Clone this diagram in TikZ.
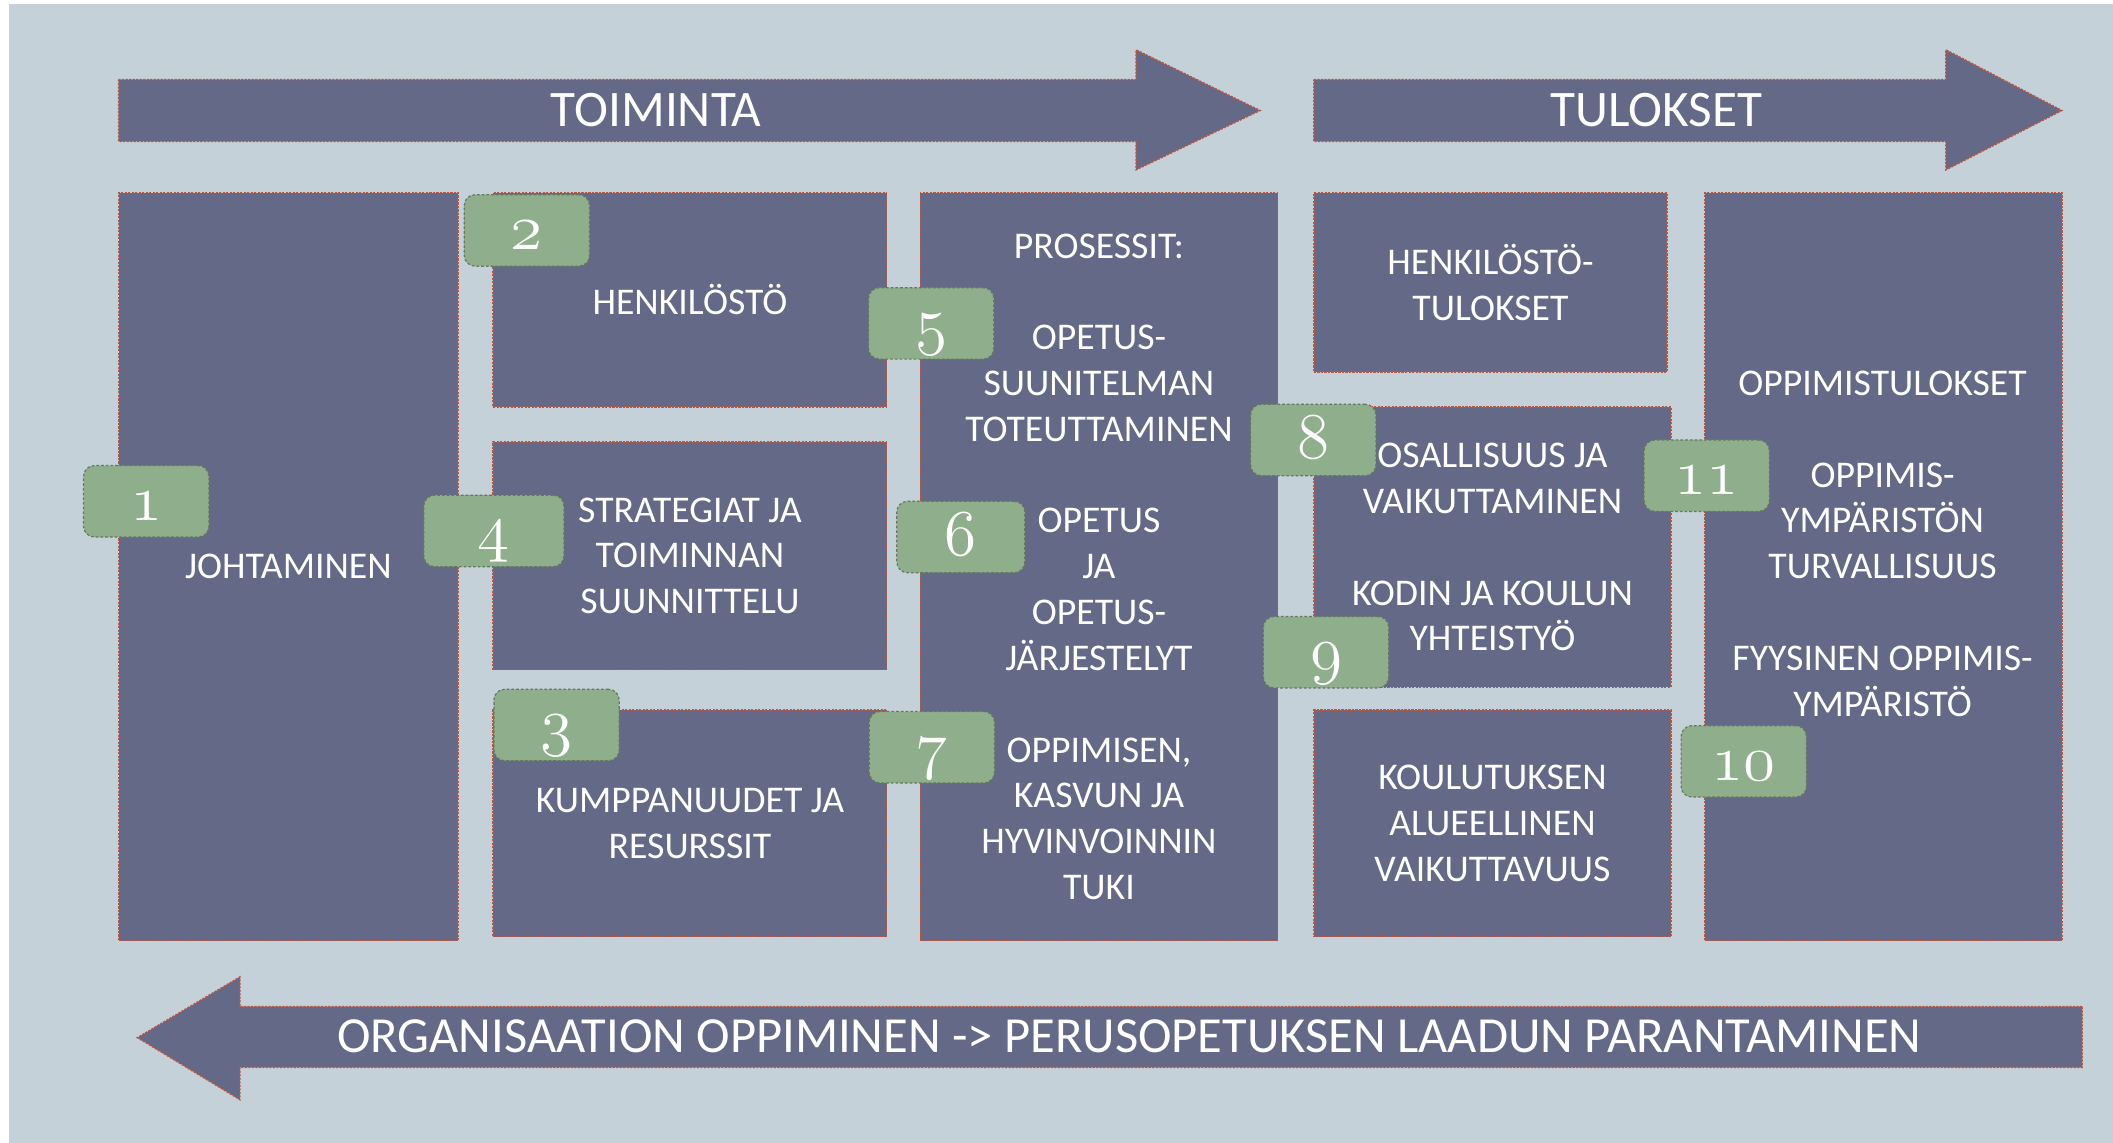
\documentclass[tikz,border=0pt]{standalone}
\usepackage{fontspec}
\setmainfont{Carlito}
\definecolor{bgc}{RGB}{197,209,216}
\definecolor{boxc}{RGB}{99,105,134}
\definecolor{bordc}{RGB}{185,85,65}
\definecolor{badgec}{RGB}{143,174,139}
\definecolor{badgebord}{RGB}{100,120,95}
\newcommand{\bnum}[1]{\scalebox{1.95}{\fontsize{24.88}{25}\usefont{OML}{cmm}{m}{it}#1}}
\newcommand{\boxfnt}{\fontsize{28}{34}\selectfont}
\newcommand{\bigfnt}{\fontsize{38}{40}\selectfont}
\begin{document}
\begin{tikzpicture}[x=1pt,y=-1pt,
  panel/.style={draw=bordc, fill=boxc, line width=1.1pt, dash pattern=on 1.6pt off 1pt, text=white, font=\boxfnt, align=center, inner sep=0pt},
  arrowshape/.style={draw=bordc, fill=boxc, line width=1.1pt, dash pattern=on 1.6pt off 1pt},
  badge/.style={draw=badgebord, fill=badgec, line width=0.9pt, dash pattern=on 2pt off 1.5pt, rounded corners=8pt, minimum width=93pt, minimum height=53pt, inner sep=0pt, text=white, text height=28pt, text depth=0pt},
  lbl/.style={text=white, font=\boxfnt, align=center, inner sep=0pt},
  biglbl/.style={text=white, font=\bigfnt, inner sep=0pt}]
\useasboundingbox (0,0) rectangle (1568,848);
\fill[white] (0,0) rectangle (1568,848);
\fill[bgc] (7,3) rectangle (1568,848);

% arrows
\draw[arrowshape] (88,59) -- (843,59) -- (843,37) -- (935,82) -- (843,126) -- (843,105) -- (88,105) -- cycle;
\node[biglbl] (toiminta) at (487,82) {TOIMINTA};
\draw[arrowshape] (975,59) -- (1444,59) -- (1444,37) -- (1530,82) -- (1444,126) -- (1444,105) -- (975,105) -- cycle;
\node[biglbl] (tulokset) at (1229,82) {TULOKSET};
\draw[arrowshape] (1545,747) -- (178,747) -- (178,725) -- (102,770) -- (178,816) -- (178,792) -- (1545,792) -- cycle;
\node[biglbl, font=\fontsize{37.5}{40}\selectfont] (oppiminen) at (838,769) {ORGANISAATION OPPIMINEN -> PERUSOPETUKSEN LAADUN PARANTAMINEN};

% panels
\node[panel, minimum width=252pt, minimum height=555pt] (johto) at (214,420.5) {JOHTAMINEN};
\node[panel, minimum width=292pt, minimum height=159pt] (henk) at (512,222.5) {HENKILÖSTÖ};
\node[panel, minimum width=292pt, minimum height=169pt] (strat) at (512,412.5) {STRATEGIAT JA\\TOIMINNAN\\SUUNNITTELU};
\node[panel, minimum width=292pt, minimum height=168pt] (kump) at (512,611) {KUMPPANUUDET JA\\RESURSSIT};
\node[panel, minimum width=265pt, minimum height=555pt] (pros) at (815.5,420.5) {PROSESSIT:\\[34pt]OPETUS-\\SUUNITELMAN\\TOTEUTTAMINEN\\[34pt]OPETUS\\JA\\OPETUS-\\JÄRJESTELYT\\[34pt]OPPIMISEN,\\KASVUN JA\\HYVINVOINNIN\\TUKI};
\node[panel, minimum width=262pt, minimum height=133pt] (henktul) at (1106,209.5) {HENKILÖSTÖ-\\TULOKSET};
\node[panel, minimum width=265pt, minimum height=208pt] (osal) at (1107.5,406) {OSALLISUUS JA\\VAIKUTTAMINEN\\[34pt]KODIN JA KOULUN\\YHTEISTYÖ};
\node[panel, minimum width=265pt, minimum height=168pt] (koul) at (1107.5,611) {KOULUTUKSEN\\ALUEELLINEN\\VAIKUTTAVUUS};
\node[panel, minimum width=265pt, minimum height=555pt] (oppi) at (1397.5,420.5) {};
\node[lbl] (oppitxt) at (1397,403.5) {OPPIMISTULOKSET\\[34pt]OPPIMIS-\\YMPÄRISTÖN\\TURVALLISUUS\\[34pt]FYYSINEN OPPIMIS-\\YMPÄRISTÖ};

% badges
\node[badge] (n1) at (108.5,372) {\bnum{1}};
\node[badge] (n2) at (391,171) {\bnum{2}};
\node[badge] (n3) at (413,538) {\bnum{3}};
\node[badge, minimum width=104pt] (n4) at (366.5,394) {\bnum{4}};
\node[badge] (n5) at (691,240) {\bnum{5}};
\node[badge, minimum width=95pt] (n6) at (713,398.5) {\bnum{6}};
\node[badge] (n7) at (691.5,554.5) {\bnum{7}};
\node[badge] (n8) at (974.5,326.5) {\bnum{8}};
\node[badge] (n9) at (984,484) {\bnum{9}};
\node[badge] (n10) at (1294,565) {\bnum{10}};
\node[badge] (n11) at (1266.5,353) {\bnum{11}};
\end{tikzpicture}
\end{document}
